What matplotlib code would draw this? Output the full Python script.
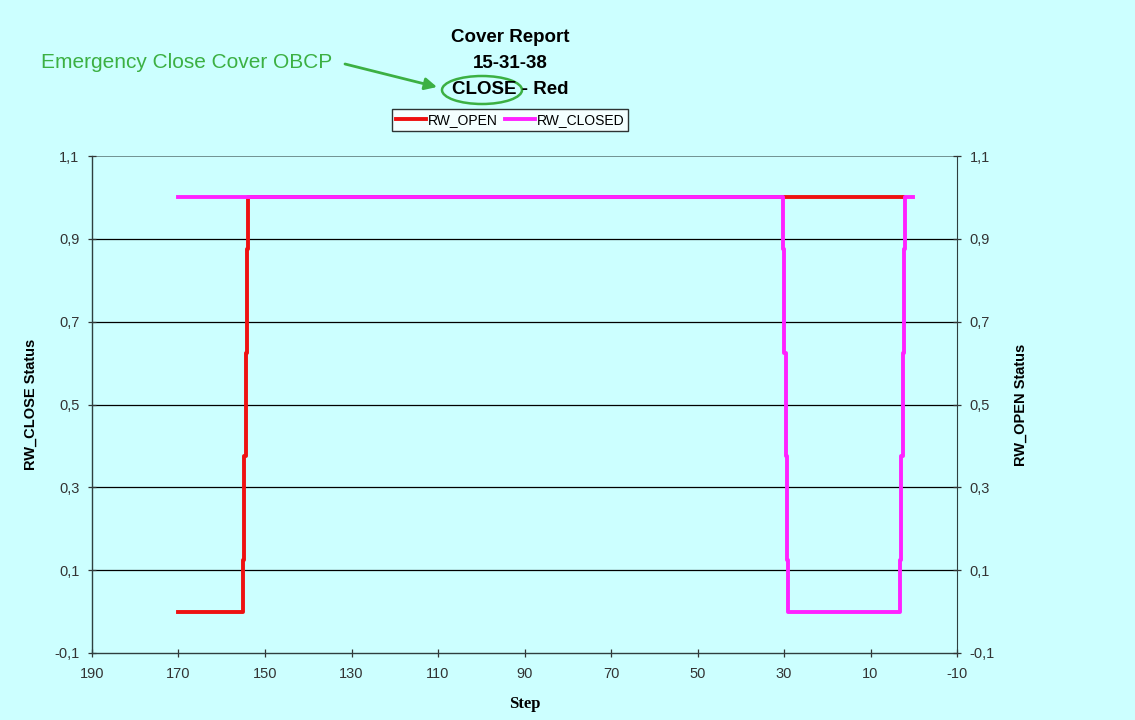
import matplotlib
matplotlib.use("Agg")
import matplotlib.pyplot as plt
from matplotlib.patches import Ellipse
from matplotlib.ticker import FuncFormatter

plt.rcParams['font.family'] = ['Liberation Sans', 'DejaVu Sans']

# data (steps run backwards, small jogs on the edges)
steps_open = [170, 155.1, 155.1, 154.8, 154.8, 154.5, 154.5, 154.2, 154.2, 153.9, 153.9, 2.5]
rw_open = [0, 0, 0.125, 0.125, 0.375, 0.375, 0.625, 0.625, 0.875, 0.875, 1, 1]
steps_closed = [170, 30.2, 30.2, 29.9, 29.9, 29.6, 29.6, 29.3, 29.3, 29.0, 29.0,
                3.2, 3.2, 2.9, 2.9, 2.6, 2.6, 2.3, 2.3, 2.0, 2.0, 0.2]
rw_closed = [1, 1, 0.875, 0.875, 0.625, 0.625, 0.375, 0.375, 0.125, 0.125, 0,
             0, 0.125, 0.125, 0.375, 0.375, 0.625, 0.625, 0.875, 0.875, 1, 1]
xticks = list(range(190, -11, -20))
yticks = [-0.1, 0.1, 0.3, 0.5, 0.7, 0.9, 1.1]

bg = '#ccffff'
green = '#3cb043'
W, H = 1135, 720

fig = plt.figure(figsize=(11.35, 7.2), dpi=100, facecolor=bg)
ax = fig.add_axes([92 / W, 1 - 653 / H, 865 / W, 497 / H])
ax.set_facecolor(bg)

l1, = ax.plot(steps_open, rw_open, color='#ee1111', lw=2.8, label='RW_OPEN')
l2, = ax.plot(steps_closed, rw_closed, color='#ff22ff', lw=2.8, label='RW_CLOSED')

ax.set_xlim(190, -10)
ax.set_ylim(-0.1, 1.1)
ax.set_xticks(xticks)
ax.set_yticks(yticks)
for y in yticks[1:-1]:
    ax.axhline(y, color='black', lw=0.9, zorder=0)
ax.axhline(1.1, color='#6a8a8a', lw=1.3, zorder=0)

fmt = FuncFormatter(lambda v, p: ('%.1f' % v).replace('.', ','))
ax.xaxis.set_major_formatter(FuncFormatter(lambda v, p: '%d' % v))
ax.yaxis.set_major_formatter(fmt)
ax.tick_params(direction='inout', length=6, width=0.9, labelsize=10.5, colors='#333333')
ax.tick_params(axis='y', pad=6)
ax.tick_params(axis='x', pad=7)
for s in ['top', 'right']:
    ax.spines[s].set_visible(False)
for s in ['left', 'bottom']:
    ax.spines[s].set_color('#2f3f3f')
    ax.spines[s].set_linewidth(1.0)

ax.set_xlabel('Step', fontsize=12, fontweight='bold', family='Liberation Serif', labelpad=11)
ax.set_ylabel('RW_CLOSE Status', fontsize=10.5, fontweight='bold', labelpad=12)

ax2 = ax.twinx()
ax2.set_ylim(-0.1, 1.1)
ax2.set_yticks(yticks)
ax2.yaxis.set_major_formatter(fmt)
ax2.tick_params(direction='inout', length=6, width=0.9, labelsize=10.5, colors='#333333', pad=6)
for s in ['top', 'left', 'bottom']:
    ax2.spines[s].set_visible(False)
ax2.spines['right'].set_color('#2f3f3f')
ax2.set_ylabel('RW_OPEN Status', fontsize=10.5, fontweight='bold', labelpad=14)

# titles
cx = 510 / W
fig.text(cx, 1 - 38 / H, 'Cover Report', ha='center', va='center', fontsize=13.5, fontweight='bold')
fig.text(cx, 1 - 64 / H, '15-31-38', ha='center', va='center', fontsize=13.5, fontweight='bold')
fig.text(cx, 1 - 90 / H, 'CLOSE - Red', ha='center', va='center', fontsize=13.5, fontweight='bold')

leg = fig.legend(handles=[l1, l2], loc='center', bbox_to_anchor=(cx, 1 - 120 / H), ncol=2,
                 fontsize=10, frameon=True, fancybox=False, edgecolor='black',
                 handlelength=2.2, handletextpad=0.1, columnspacing=0.5,
                 borderpad=0.3, borderaxespad=0)
leg.get_frame().set_facecolor('white')
leg.get_frame().set_linewidth(1.0)

# annotation
fig.text(41 / W, 1 - 63 / H, 'Emergency Close Cover OBCP', color=green, fontsize=15, va='center')
fig.add_artist(Ellipse((482 / W, 1 - 90 / H), 80 / W, 28 / H, transform=fig.transFigure,
                       fill=False, edgecolor=green, lw=1.8))
ax.annotate('', xy=(437 / W, 1 - 87 / H), xytext=(345 / W, 1 - 64 / H),
            xycoords='figure fraction', textcoords='figure fraction',
            arrowprops=dict(arrowstyle='-|>', color=green, lw=2, mutation_scale=18,
                            shrinkA=0, shrinkB=0))

fig.savefig('out.png', dpi=100, facecolor=bg)
